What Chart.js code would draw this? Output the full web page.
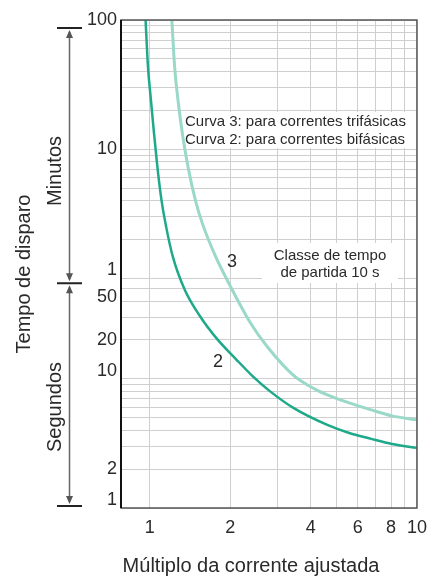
<!DOCTYPE html>
<html>
<head>
<meta charset="utf-8">
<script src="https://cdn.jsdelivr.net/npm/chart.js@4.4.0/dist/chart.umd.min.js"></script>
<style>
  html, body { margin: 0; padding: 0; background: #fff; }
</style>
</head>
<body>
<canvas id="grafico" width="436" height="577"></canvas>
<script>
// Curva 2 (correntes bifásicas): múltiplo da corrente x tempo de disparo (s)
const curva2Multiplo = [0.964, 0.984, 1.009, 1.036, 1.067, 1.105, 1.143, 1.219, 1.351, 1.537, 1.794, 2.095, 2.424, 2.805, 3.446, 4.617, 5.577, 6.736, 8.066, 10];
const curva2Tempo    = [6000, 2622, 1455, 807, 440, 244, 162, 88.3, 49.0, 30.8, 20.1, 14.3, 10.5, 8.07, 5.96, 4.40, 3.81, 3.43, 3.13, 2.92];

// Curva 3 (correntes trifásicas)
const curva3Multiplo = [1.209, 1.238, 1.274, 1.322, 1.389, 1.479, 1.569, 1.764, 2.006, 2.378, 2.753, 3.440, 4.200, 4.617, 5.577, 6.736, 8.066, 10];
const curva3Tempo    = [6000, 2622, 1455, 807, 440, 244, 162, 88.3, 51.7, 27.2, 17.7, 10.7, 8.22, 7.52, 6.51, 5.75, 5.17, 4.81];

// eixo x
const gradeX = [1, 2, 3, 4, 5, 6, 7, 8, 9, 10];
const ticksX = [1, 2, 4, 6, 8, 10];
const rotulosX = ['1', '2', '4', '6', '8', '10'];

// eixo y em segundos (1 min = 60 s)
const gradeY = [1, 2, 3, 4, 5, 6, 7, 8, 9, 10, 20, 30, 40, 50,
    60, 120, 180, 240, 300, 360, 420, 480, 540, 600,
    1200, 1800, 2400, 3000, 3600, 4200, 4800, 5400, 6000];
const ticksY = [1, 2, 10, 20, 50, 60, 600, 6000];
const rotulosY = ['1', '2', '10', '20', '50', '1', '10', '100'];
// rotulos deslocados meia linha para cima / para baixo da linha de grade
const rotuloAcima = [1, 10, 60];
const rotuloAbaixo = [50];

const fonte = '"Liberation Sans", Arial, Helvetica, sans-serif';
const corTexto = '#2a2a2a';

function pontos(xs, ys) {
    return xs.map((x, i) => ({ x: x, y: ys[i] }));
}

function escrever(ctx, s, x, y, tam, align, rot) {
    ctx.save();
    ctx.translate(x, y);
    if (rot) ctx.rotate(rot);
    ctx.font = tam + 'px ' + fonte;
    ctx.fillStyle = corTexto;
    ctx.textAlign = align || 'center';
    ctx.textBaseline = 'middle';
    ctx.fillText(s, 0, 0);
    ctx.restore();
}

function ponta(ctx, x, y, dir) {
    // dir = -1 para cima, 1 para baixo; y = ponta
    ctx.beginPath();
    ctx.moveTo(x, y);
    ctx.lineTo(x - 3.5, y - dir * 8);
    ctx.lineTo(x + 3.5, y - dir * 8);
    ctx.closePath();
    ctx.fill();
}

const decoracao = {
    id: 'decoracao',
    beforeDatasetsDraw(chart) {
        const ctx = chart.ctx;
        ctx.save();
        ctx.fillStyle = '#fff';
        ctx.fillRect(184, 112, 231, 36);
        ctx.fillRect(262, 243, 136, 40);
        ctx.restore();
    },
    afterDatasetsDraw(chart) {
        const ctx = chart.ctx;
        const a = chart.chartArea;
        ctx.save();
        ctx.strokeStyle = '#555';
        ctx.lineWidth = 1.5;
        ctx.strokeRect(a.left, a.top, a.right - a.left, a.bottom - a.top);
        ctx.strokeStyle = '#111';
        ctx.lineWidth = 2;
        ctx.beginPath();
        ctx.moveTo(a.left, a.top);
        ctx.lineTo(a.left, a.bottom);
        ctx.stroke();
        ctx.restore();

        escrever(ctx, 'Curva 3: para correntes trifásicas', 185, 122, 15, 'left');
        escrever(ctx, 'Curva 2: para correntes bifásicas', 185, 140, 15, 'left');
        escrever(ctx, 'Classe de tempo', 330, 256, 15);
        escrever(ctx, 'de partida 10 s', 330, 273, 15);
        escrever(ctx, '3', 232, 262, 18);
        escrever(ctx, '2', 218, 362, 18);
    },
    afterDraw(chart) {
        const ctx = chart.ctx;
        const y = chart.scales.y;
        const topo = y.getPixelForValue(6000) + 8;
        const meio = y.getPixelForValue(60) + 5;
        const base = y.getPixelForValue(1) - 2;
        const xs = 69.5;

        ctx.save();
        ctx.strokeStyle = '#666';
        ctx.fillStyle = '#555';
        ctx.lineWidth = 1.5;
        ctx.beginPath();
        ctx.moveTo(xs, topo + 4);
        ctx.lineTo(xs, meio - 4);
        ctx.moveTo(xs, meio + 4);
        ctx.lineTo(xs, base - 4);
        ctx.stroke();
        ponta(ctx, xs, topo + 2, -1);
        ponta(ctx, xs, meio - 2, 1);
        ponta(ctx, xs, meio + 2, -1);
        ponta(ctx, xs, base - 2, 1);

        ctx.strokeStyle = '#222';
        ctx.lineWidth = 2;
        ctx.beginPath();
        [topo, meio, base].forEach(v => {
            ctx.moveTo(57, v);
            ctx.lineTo(82, v);
        });
        ctx.stroke();
        ctx.restore();

        escrever(ctx, 'Minutos', 55, 171, 20, 'center', -Math.PI / 2);
        escrever(ctx, 'Segundos', 55, 407, 20, 'center', -Math.PI / 2);
        escrever(ctx, 'Tempo de disparo', 24, 274, 20, 'center', -Math.PI / 2);
        escrever(ctx, 'Múltiplo da corrente ajustada', 251, 566, 20);
    }
};

new Chart(document.getElementById('grafico'), {
    type: 'line',
    data: {
        datasets: [{
            label: 'Curva 3',
            data: pontos(curva3Multiplo, curva3Tempo),
            borderColor: '#9ad8c8',
            borderWidth: 3,
            pointRadius: 0,
            cubicInterpolationMode: 'monotone'
        }, {
            label: 'Curva 2',
            data: pontos(curva2Multiplo, curva2Tempo),
            borderColor: '#1ea98a',
            borderWidth: 2.5,
            pointRadius: 0,
            cubicInterpolationMode: 'monotone'
        }]
    },
    options: {
        responsive: false,
        animation: false,
        layout: { padding: { top: 20, right: 18, left: 0, bottom: 0 } },
        plugins: {
            legend: { display: false },
            tooltip: { enabled: false }
        },
        scales: {
            x: {
                type: 'logarithmic',
                min: 0.78,
                max: 10,
                afterBuildTicks: s => { s.ticks = gradeX.map(v => ({ value: v })); },
                afterFit: s => { s.height = 69; },
                ticks: {
                    autoSkip: false,
                    maxRotation: 0,
                    padding: 9,
                    color: corTexto,
                    font: { family: fonte, size: 18 },
                    callback: v => {
                        const i = ticksX.indexOf(v);
                        return i >= 0 ? rotulosX[i] : '';
                    }
                },
                grid: { color: '#cfcfcf', drawTicks: false },
                border: { display: false }
            },
            y: {
                type: 'logarithmic',
                min: 1,
                max: 6000,
                afterBuildTicks: s => { s.ticks = gradeY.map(v => ({ value: v })); },
                afterFit: s => { s.width = 121; },
                ticks: {
                    autoSkip: false,
                    padding: 4,
                    color: corTexto,
                    font: { family: fonte, size: 18, lineHeight: 0.9 },
                    callback: v => {
                        const i = ticksY.indexOf(v);
                        if (i < 0) return '';
                        if (rotuloAcima.includes(v)) return [rotulosY[i], ''];
                        if (rotuloAbaixo.includes(v)) return ['', rotulosY[i]];
                        return rotulosY[i];
                    }
                },
                grid: { color: '#cfcfcf', drawTicks: false },
                border: { display: false }
            }
        }
    },
    plugins: [decoracao]
});
</script>
</body>
</html>
